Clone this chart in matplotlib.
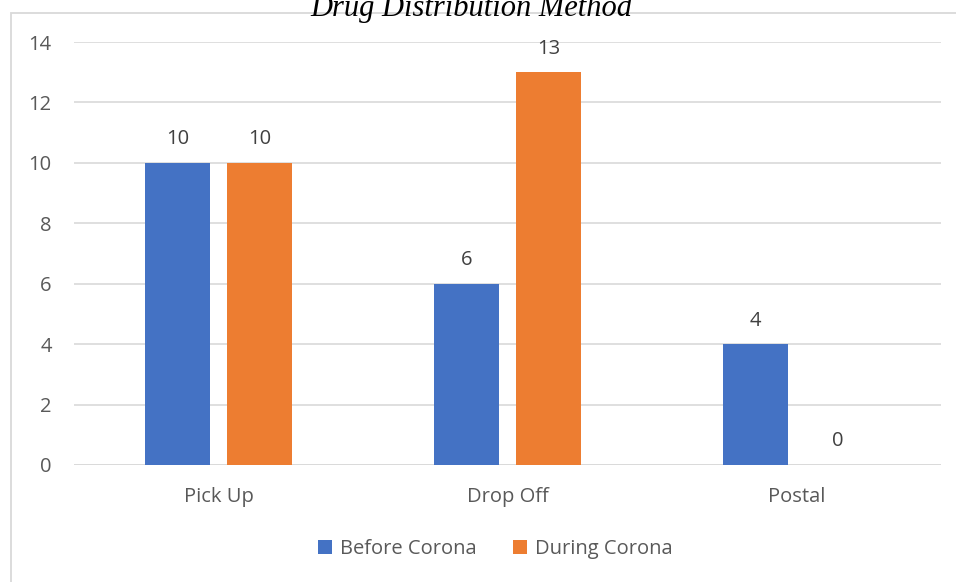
import matplotlib
matplotlib.use("Agg")
import matplotlib.pyplot as plt
import numpy as np
from matplotlib.patches import Rectangle

categories = ["Pick Up", "Drop Off", "Postal"]
series_names = ["Before Corona", "During Corona"]
before = [10, 6, 4]
during = [10, 13, 0]
yticks = [0, 2, 4, 6, 8, 10, 12, 14]
title = "Drug Distribution Method"

colors = ["#4472C4", "#ED7D31"]
txt = "#595959"
font = "Open Sans"
fs = 14.5

fig = plt.figure(figsize=(9.56, 5.82), dpi=100)
ax = fig.add_axes([74/956, 1-465/582, (941-74)/956, (465-42)/582])

x = np.arange(len(categories))
w = 0.225
off = 0.142
for vals, c, o, name in [(before, colors[0], -off, series_names[0]), (during, colors[1], off, series_names[1])]:
    ax.bar(x + o, vals, width=w, color=c, label=name, zorder=3)
    for xi, v in zip(x + o, vals):
        ax.text(xi, v + 0.45, str(v), ha="center", va="bottom", fontsize=fs, color="#404040", family=font)

ax.set_xlim(-0.5, 2.5)
ax.set_ylim(0, 14)
ax.set_yticks(yticks)
ax.set_yticklabels([str(t) for t in yticks], fontsize=fs, color=txt, family=font)
ax.set_xticks(x)
ax.set_xticklabels(categories, fontsize=fs, color=txt, family=font)
ax.tick_params(axis="both", length=0)
ax.tick_params(axis="y", pad=16)
ax.tick_params(axis="x", pad=16)
ax.grid(axis="y", color="#d9d9d9", linewidth=1.2, zorder=0)
for s in ax.spines.values():
    s.set_visible(False)
ax.axhline(0, color="#d9d9d9", linewidth=1.2, zorder=1)

fig.patches.append(Rectangle((10.5/956, -0.1), 1.2, 1 - 12.5/582 + 0.1, transform=fig.transFigure,
                             fill=False, edgecolor="#d9d9d9", linewidth=1.3))

fig.text(471/956, 1 - 16/582, title, ha="center", va="baseline", fontsize=22,
         family="Liberation Serif", style="italic", color="black")

leg = fig.legend(loc="center", bbox_to_anchor=(495/956, 1 - 549/582), ncol=2, frameon=False,
                 prop={"family": font, "size": fs}, handlelength=0.7, handleheight=0.7,
                 columnspacing=1.8, handletextpad=0.4)
for t in leg.get_texts():
    t.set_color(txt)

fig.savefig("out.png", dpi=100)
